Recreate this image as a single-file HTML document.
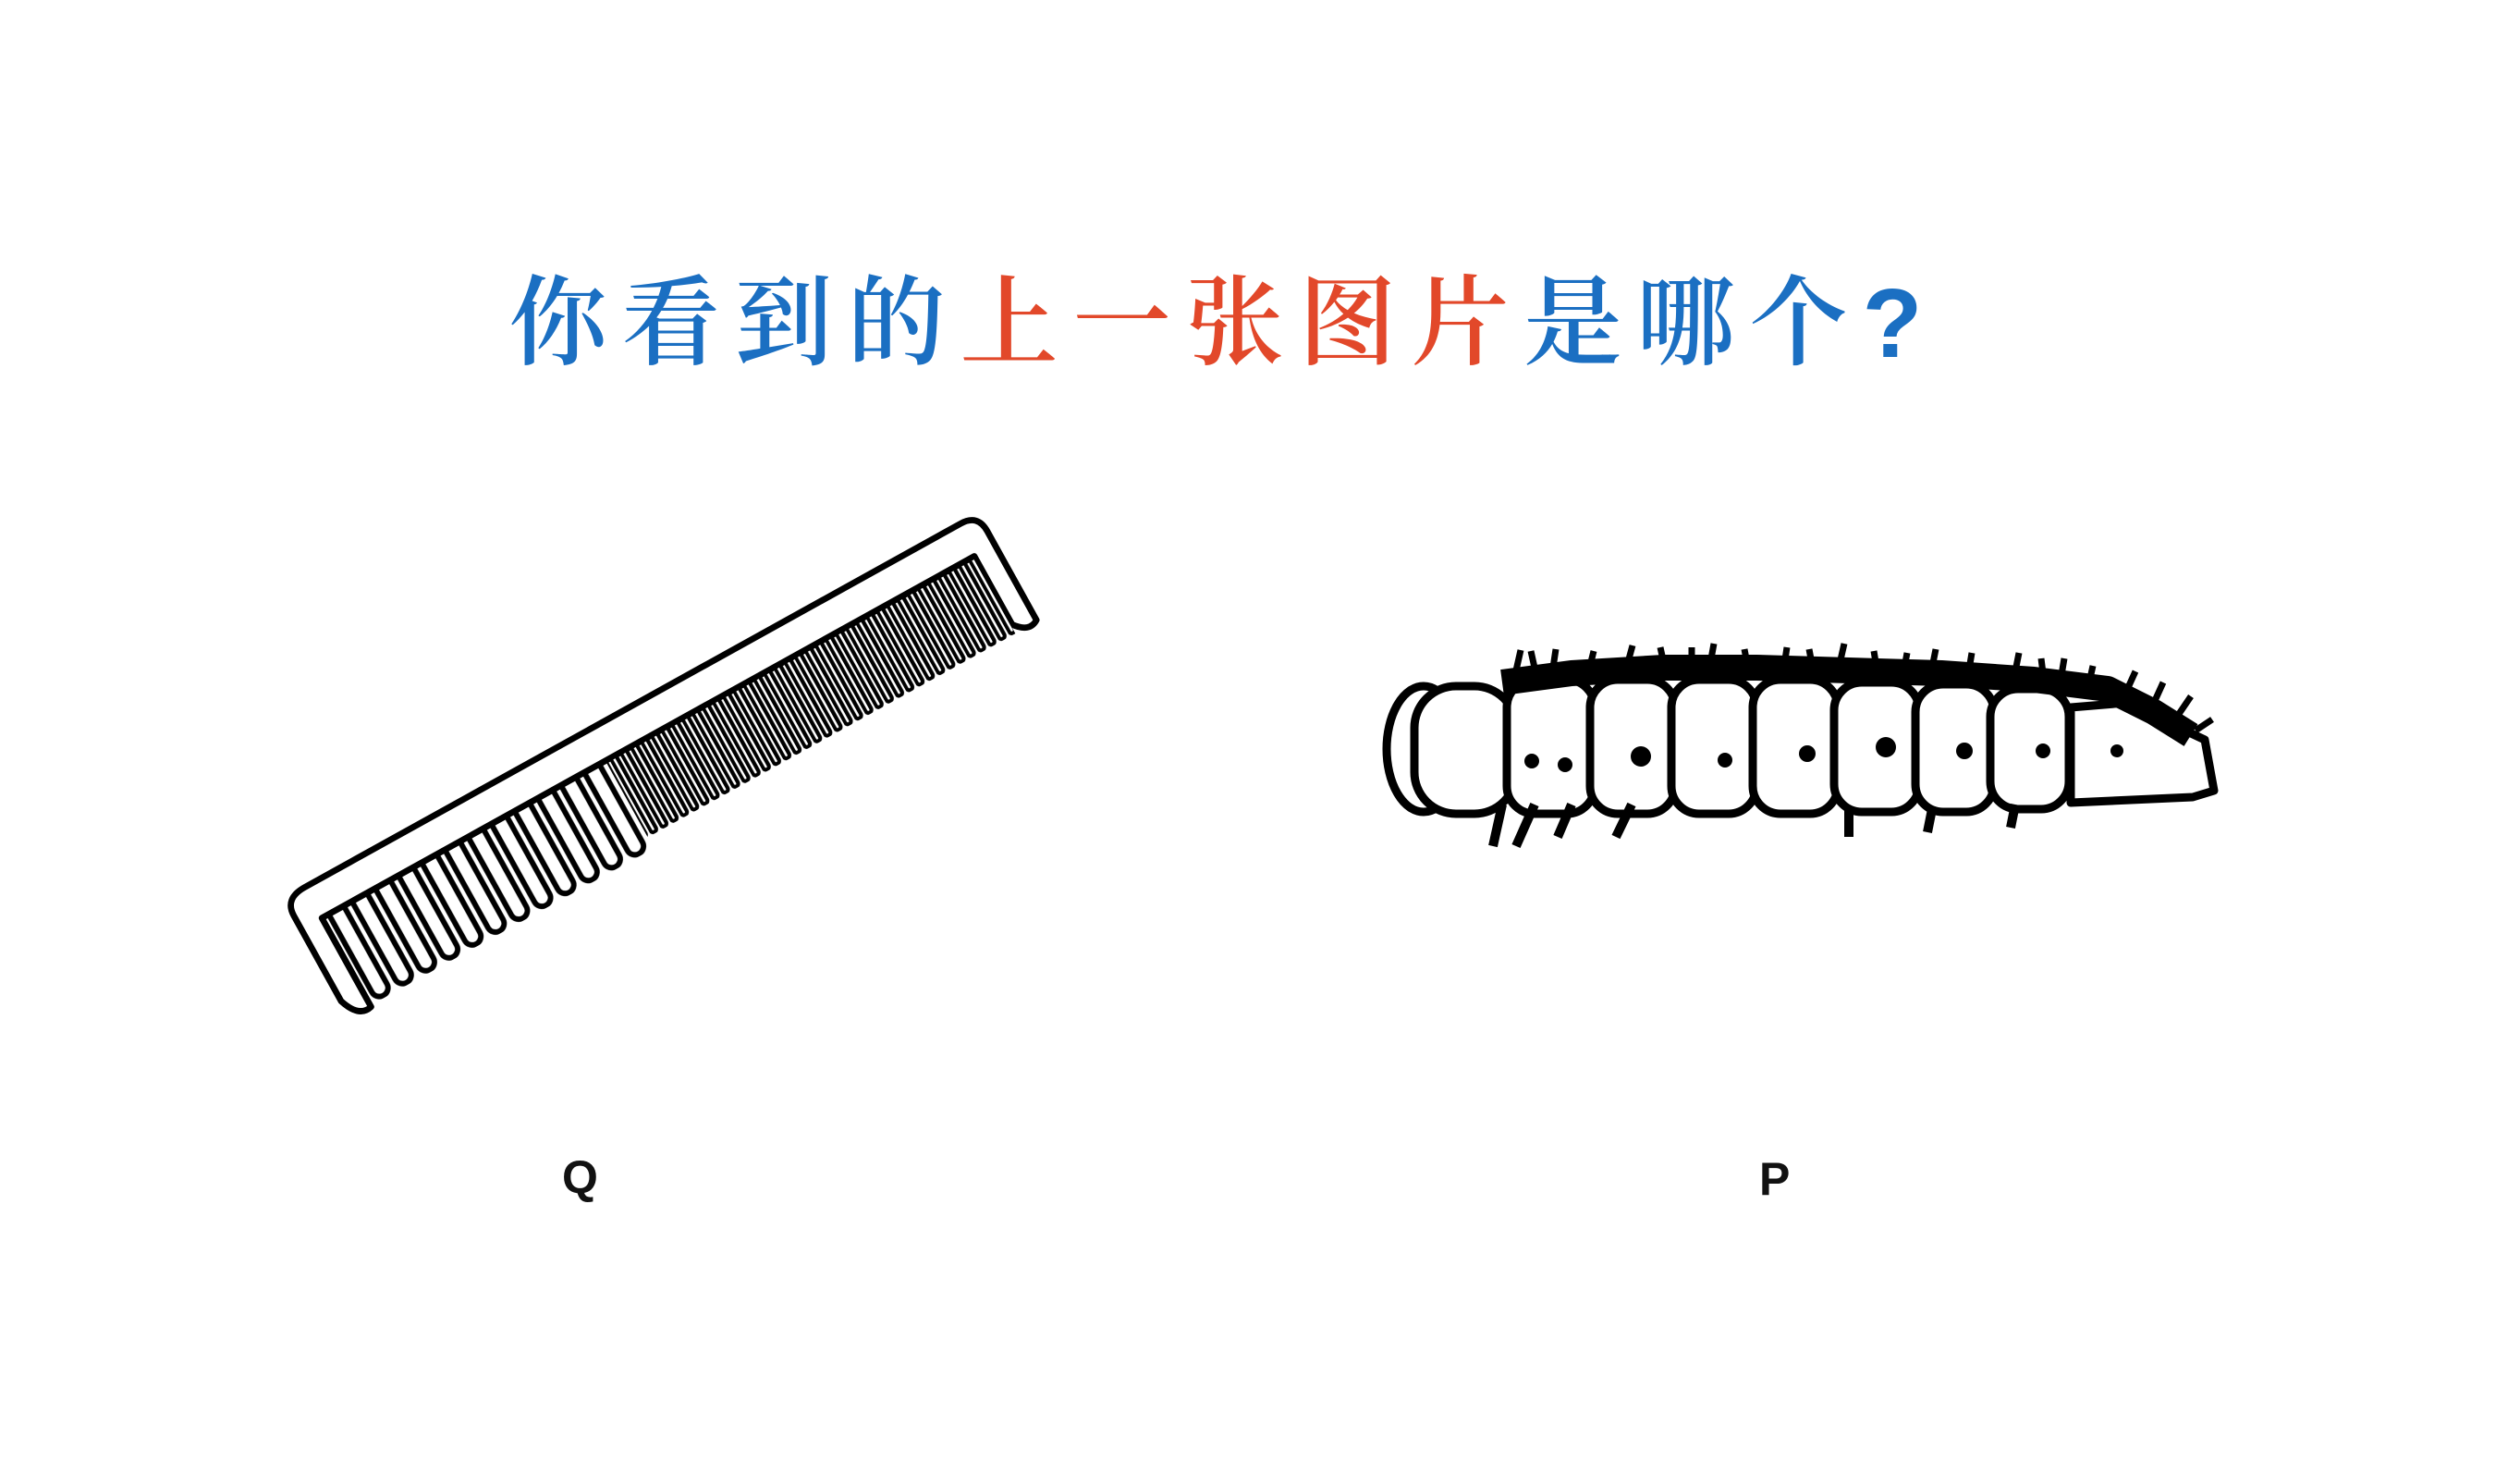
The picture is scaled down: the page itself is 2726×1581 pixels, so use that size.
<!DOCTYPE html>
<html><head><meta charset="utf-8"><style>
html,body{margin:0;padding:0;background:#fff;}
body{width:2726px;height:1581px;position:relative;overflow:hidden;}
.title{position:absolute;left:-40px;width:2726px;top:280px;text-align:center;font-family:"Liberation Sans","Noto Serif CJK SC",serif;font-size:106px;letter-spacing:16px;color:#1b6fc2;font-weight:600;line-height:140px;}
.r{color:#e2482a;}
.lab{position:absolute;font-family:"Liberation Sans",sans-serif;font-weight:bold;font-size:50px;color:#111;}
</style></head><body>
<div class="title">你看到的<span class="r">上一张图片</span>是哪个?</div>
<svg width="2726" height="1581" style="position:absolute;left:0;top:0">
<defs>
<pattern id="wide" x="0" y="0" width="34" height="200" patternUnits="userSpaceOnUse">
<rect x="6" y="-20" width="22" height="145" rx="11" fill="none" stroke="#000" stroke-width="7"/>
</pattern>
<pattern id="fine" x="0" y="0" width="15" height="200" patternUnits="userSpaceOnUse">
<rect x="2" y="-20" width="8" height="130" rx="4" fill="#fff" stroke="#000" stroke-width="5"/>
</pattern>
</defs>
<g transform="translate(326,1005) rotate(-29) scale(0.845)">
<path d="M0,-20 Q0,-45 30,-45 L990,-45 Q1015,-45 1015,-20 L1015,110 Q1000,120 985,100 L985,0 L30,0 L30,130 Q10,135 0,105 Z" fill="#fff" stroke="#000" stroke-width="8" stroke-linejoin="round"/>
<rect x="35" y="0" width="408" height="128" fill="url(#wide)"/>
<rect x="445" y="0" width="538" height="112" fill="url(#fine)"/>
<line x1="30" y1="0" x2="985" y2="0" stroke="#000" stroke-width="7"/>
</g>
<g stroke="#000" stroke-width="9" fill="#fff" stroke-linejoin="round">
<ellipse cx="1540" cy="810" rx="40" ry="68"/>
<rect x="1530" y="742" width="110" height="138" rx="45"/>
<rect x="1630" y="735" width="95" height="145" rx="30"/>
<rect x="1720" y="735" width="92" height="145" rx="30"/>
<rect x="1808" y="735" width="92" height="145" rx="30"/>
<rect x="1896" y="735" width="92" height="145" rx="30"/>
<rect x="1984" y="738" width="92" height="140" rx="30"/>
<rect x="2072" y="740" width="85" height="138" rx="30"/>
<rect x="2153" y="745" width="85" height="130" rx="30"/>
<path d="M2240,765 L2300,760 L2385,800 L2395,855 L2372,862 L2240,868 Z"/>
<path d="M1625,870 L1615,915 M1660,870 L1640,915 M1700,870 L1685,905 M1765,870 L1748,905 M2000,875 L2000,905 M2090,875 L2085,900 M2180,870 L2175,895" fill="none" stroke-width="10"/>
<path d="M1625,738 L1700,728 L1800,722 L1900,722 L2000,725 L2100,728 L2200,735 L2280,745 L2330,770 L2370,795" fill="none" stroke-width="28"/>
<path d="M1640,725 l5,-22 M1660,722 l-4,-18 M1680,722 l3,-20 M1720,720 l4,-16 M1760,720 l6,-22 M1800,718 l-4,-18 M1830,718 l0,-18 M1850,718 l4,-22 M1890,718 l-3,-16 M1930,720 l3,-20 M1960,718 l-3,-16 M1990,718 l5,-22 M2030,722 l-3,-18 M2060,722 l3,-16 M2090,722 l4,-20 M2130,724 l3,-18 M2180,726 l4,-20 M2210,728 l-2,-16 M2230,730 l3,-18 M2260,738 l4,-18 M2300,748 l10,-22 M2330,760 l10,-22 M2355,775 l15,-22 M2375,790 l18,-12" fill="none" stroke-width="7"/>
</g>
<g fill="#000">
<circle cx="1657" cy="823" r="8"/><circle cx="1693" cy="827" r="8"/>
<circle cx="1775" cy="818" r="11"/><circle cx="1866" cy="822" r="8"/>
<circle cx="1955" cy="815" r="9"/><circle cx="2040" cy="808" r="11"/>
<circle cx="2125" cy="812" r="9"/><circle cx="2210" cy="812" r="8"/>
<circle cx="2290" cy="812" r="7"/>
</g>
</svg>
<div class="lab" style="left:608px;top:1244px;">Q</div>
<div class="lab" style="left:1903px;top:1246px;">P</div>
</body></html>
